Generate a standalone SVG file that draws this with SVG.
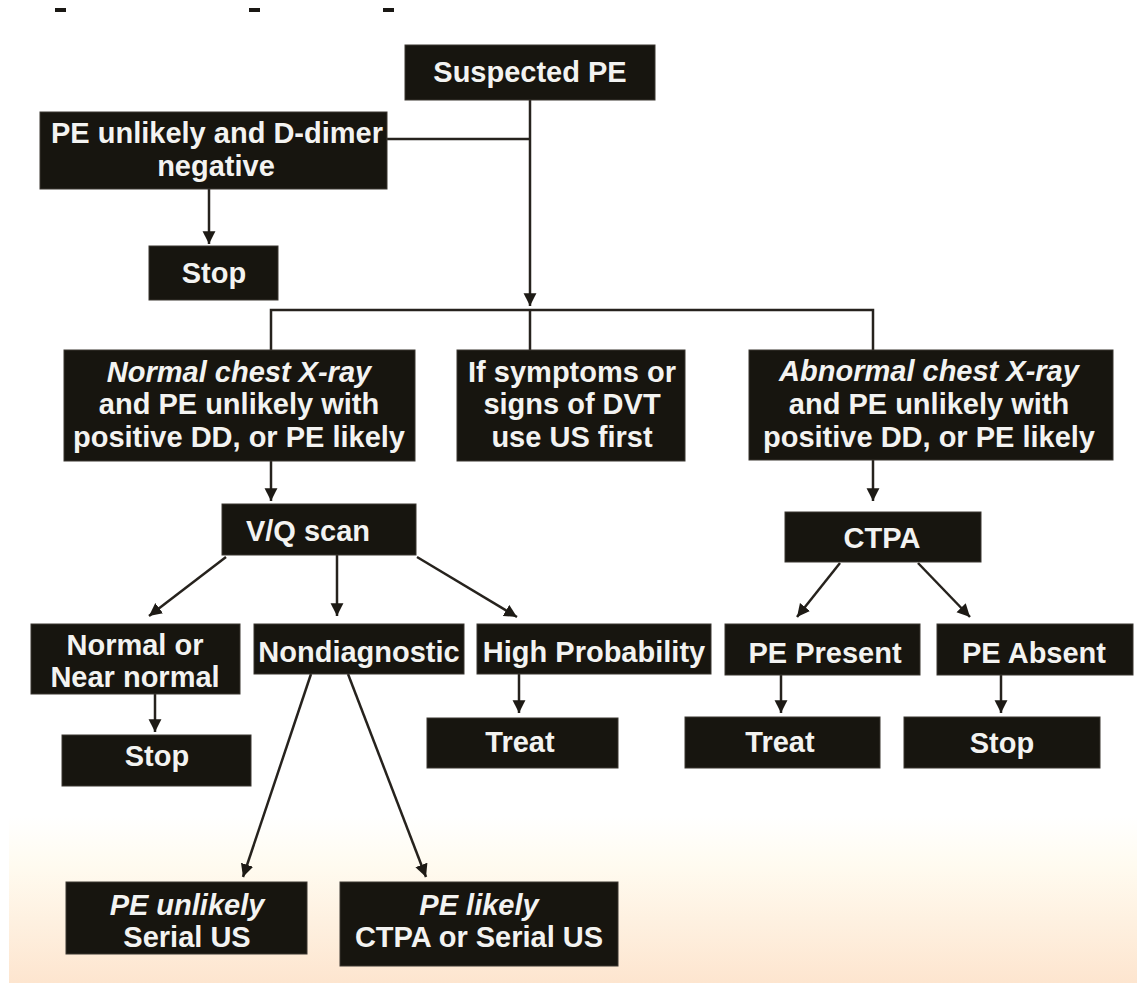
<svg xmlns="http://www.w3.org/2000/svg" width="1137" height="983" viewBox="0 0 1137 983">
  <style>
    .box { fill: #17150f; stroke: #3a3630; stroke-width: 1; }
    .t { font-family: "Liberation Sans", Arial, sans-serif; font-weight: bold; font-size: 29px; fill: #f3f3f1; text-anchor: middle; }
    .i { font-style: italic; }
    .ln { fill: none; stroke: #26221d; stroke-width: 2.5; }
    .ar { fill: none; stroke: #26221d; stroke-width: 2.5; marker-end: url(#tip); }
  </style>
  <defs>
    <marker id="tip" markerUnits="userSpaceOnUse" markerWidth="14" markerHeight="14" viewBox="0 0 12 12" refX="11" refY="6" orient="auto">
      <path d="M0,0.5 L11,6 L0,11.5 Z" fill="#1d1a15"/>
    </marker>
    <linearGradient id="bg" x1="0" y1="0" x2="0" y2="1">
      <stop offset="0" stop-color="#ffffff"/>
      <stop offset="0.83" stop-color="#ffffff"/>
      <stop offset="0.88" stop-color="#fffbf0"/>
      <stop offset="1" stop-color="#fde5cf"/>
    </linearGradient>
  </defs>

  <!-- page background -->
  <rect x="0" y="0" width="1137" height="983" fill="#ffffff"/>
  <rect x="9" y="0" width="1128" height="983" fill="url(#bg)"/>

  <!-- clipped heading remnants -->
  <g fill="#1a1814">
    <rect x="55" y="8" width="11" height="4"/>
    <rect x="249" y="8" width="11" height="4"/>
    <rect x="383" y="8" width="11" height="4"/>
  </g>

  <!-- connectors -->
  <g id="connectors">
    <path class="ar" d="M530,100 V306"/>
    <path class="ln" d="M387,139 H530"/>
    <path class="ar" d="M209,189 V244"/>
    <path class="ln" d="M271,350 V310 H873 V350"/>
    <path class="ln" d="M530,310 V350"/>
    <path class="ar" d="M271,461 V501"/>
    <path class="ar" d="M873,460 V501"/>
    <path class="ar" d="M226,557 L149,616"/>
    <path class="ar" d="M337,555 V616"/>
    <path class="ar" d="M417,557 L517,617"/>
    <path class="ar" d="M155,694 V732"/>
    <path class="ar" d="M519,674 V713"/>
    <path class="ar" d="M311,674 L243,877"/>
    <path class="ar" d="M348,674 L426,877"/>
    <path class="ar" d="M840,563 L797,617"/>
    <path class="ar" d="M918,563 L970,617"/>
    <path class="ar" d="M781,675 V713"/>
    <path class="ar" d="M1001,675 V713"/>
  </g>

  <g id="suspected">
    <rect class="box" x="405" y="45" width="250" height="55"/>
    <text class="t" x="530" y="82">Suspected PE</text>
  </g>

  <g id="unlikely-dneg">
    <rect class="box" x="40" y="112" width="347" height="77"/>
    <text class="t" x="217" y="143">PE unlikely and D-dimer</text>
    <text class="t" x="216" y="176">negative</text>
  </g>

  <g id="stop-top">
    <rect class="box" x="149" y="246" width="129" height="54"/>
    <text class="t" x="214" y="283">Stop</text>
  </g>

  <g id="normal-cxr">
    <rect class="box" x="64" y="350" width="351" height="111"/>
    <text class="t i" x="239" y="382">Normal chest X-ray</text>
    <text class="t" x="239" y="414">and PE unlikely with</text>
    <text class="t" x="239" y="447">positive DD, or PE likely</text>
  </g>

  <g id="dvt">
    <rect class="box" x="457" y="350" width="228" height="111"/>
    <text class="t" x="572" y="382">If symptoms or</text>
    <text class="t" x="572" y="414">signs of DVT</text>
    <text class="t" x="572" y="447">use US first</text>
  </g>

  <g id="abnormal-cxr">
    <rect class="box" x="749" y="350" width="364" height="110"/>
    <text class="t i" x="929" y="381">Abnormal chest X-ray</text>
    <text class="t" x="929" y="414">and PE unlikely with</text>
    <text class="t" x="929" y="447">positive DD, or PE likely</text>
  </g>

  <g id="vq">
    <rect class="box" x="222" y="504" width="194" height="51"/>
    <text class="t" x="308" y="541">V/Q scan</text>
  </g>

  <g id="ctpa">
    <rect class="box" x="785" y="512" width="196" height="50"/>
    <text class="t" x="882" y="548">CTPA</text>
  </g>

  <g id="normal-near">
    <rect class="box" x="31" y="624" width="209" height="70"/>
    <text class="t" x="135" y="655">Normal or</text>
    <text class="t" x="135" y="687">Near normal</text>
  </g>

  <g id="nondiag">
    <rect class="box" x="254" y="624" width="210" height="50"/>
    <text class="t" x="359" y="662">Nondiagnostic</text>
  </g>

  <g id="highprob">
    <rect class="box" x="477" y="624" width="234" height="50"/>
    <text class="t" x="594" y="662">High Probability</text>
  </g>

  <g id="pe-present">
    <rect class="box" x="725" y="624" width="195" height="51"/>
    <text class="t" x="825" y="663">PE Present</text>
  </g>

  <g id="pe-absent">
    <rect class="box" x="937" y="624" width="196" height="51"/>
    <text class="t" x="1034" y="663">PE Absent</text>
  </g>

  <g id="stop-left">
    <rect class="box" x="62" y="735" width="189" height="51"/>
    <text class="t" x="157" y="766">Stop</text>
  </g>

  <g id="treat-mid">
    <rect class="box" x="427" y="718" width="191" height="50"/>
    <text class="t" x="520" y="752">Treat</text>
  </g>

  <g id="treat-right">
    <rect class="box" x="685" y="717" width="195" height="51"/>
    <text class="t" x="780" y="752">Treat</text>
  </g>

  <g id="stop-right">
    <rect class="box" x="904" y="717" width="196" height="51"/>
    <text class="t" x="1002" y="753">Stop</text>
  </g>

  <g id="unlikely-serial">
    <rect class="box" x="66" y="882" width="241" height="72"/>
    <text class="t i" x="187" y="915">PE unlikely</text>
    <text class="t" x="187" y="947">Serial US</text>
  </g>

  <g id="likely-ctpa">
    <rect class="box" x="340" y="882" width="278" height="84"/>
    <text class="t i" x="479" y="915">PE likely</text>
    <text class="t" x="479" y="947">CTPA or Serial US</text>
  </g>
</svg>
